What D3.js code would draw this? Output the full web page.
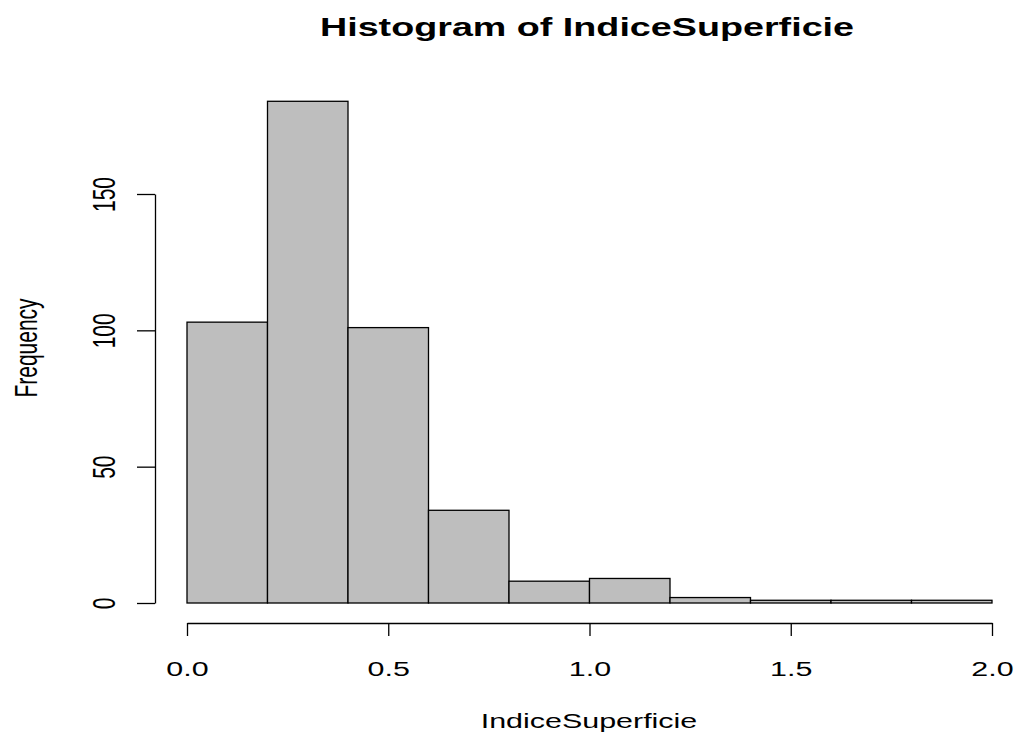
<!DOCTYPE html>
<html>
<head>
<meta charset="utf-8">
<script src="https://cdn.jsdelivr.net/npm/d3@7"></script>
<style>
    body { margin: 0; background: #fff; }
    svg text { font-family: 'Liberation Sans', Arial, sans-serif; fill: #000; }
    .axis path, .axis line { stroke: #000; stroke-width: 1.3; }
</style>
</head>
<body>
<svg width="1018" height="735"></svg>
<script>
    // histogram data
    var binEdges = [0, 0.2, 0.4, 0.6, 0.8, 1.0, 1.2, 1.4, 1.6, 1.8, 2.0];
    var counts = [103, 184, 101, 34, 8, 9, 2, 1, 1, 1];
    var xTicks = [0, 0.5, 1, 1.5, 2];
    var yTicks = [0, 50, 100, 150];

    // picture is stretched sideways, so text is stretched too
    var sx = 1.45;

    var svg = d3.select("svg");

    var x = d3.scaleLinear().domain([0, 2]).range([187, 992]);
    var y = d3.scaleLinear().domain([0, 150]).range([603, 194]);

    var bins = counts.map(function(c, i) {
        return {x0: binEdges[i], x1: binEdges[i + 1], n: c};
    });

    // bars
    svg.append("g")
        .selectAll("rect")
        .data(bins)
        .enter().append("rect")
        .attr("x", function(d) { return x(d.x0); })
        .attr("y", function(d) { return y(d.n); })
        .attr("width", function(d) { return x(d.x1) - x(d.x0); })
        .attr("height", function(d) { return y(0) - y(d.n); })
        .attr("fill", "#bebebe")
        .attr("stroke", "#000")
        .attr("stroke-width", 1.3);

    // x axis
    var gx = svg.append("g")
        .attr("class", "axis")
        .attr("transform", "translate(0,623)")
        .call(d3.axisBottom(x).tickValues(xTicks).tickSize(13).tickSizeOuter(0)
            .tickFormat(d3.format(".1f")));
    gx.selectAll("text")
        .attr("y", 0).attr("dy", 0)
        .attr("transform", "translate(0,53) scale(" + sx + ",1)")
        .attr("font-size", "21px")
        .attr("font-family", null);

    // y axis
    var gy = svg.append("g")
        .attr("class", "axis")
        .attr("transform", "translate(155,0)")
        .call(d3.axisLeft(y).tickValues(yTicks).tickSize(18).tickSizeOuter(0));
    gy.selectAll("text")
        .attr("x", 0).attr("y", 0).attr("dy", 0)
        .attr("text-anchor", "middle")
        .attr("transform", "translate(-40,0) scale(" + sx + ",1) rotate(-90)")
        .attr("font-size", "21px")
        .attr("font-family", null);
    gy.attr("font-family", null);
    gx.attr("font-family", null);

    // titles
    svg.append("text")
        .attr("transform", "translate(587,36) scale(" + sx + ",1)")
        .attr("text-anchor", "middle")
        .attr("font-size", "26px")
        .attr("font-weight", "bold")
        .text("Histogram of IndiceSuperficie");

    svg.append("text")
        .attr("transform", "translate(589,728) scale(" + sx + ",1)")
        .attr("text-anchor", "middle")
        .attr("font-size", "21px")
        .text("IndiceSuperficie");

    svg.append("text")
        .attr("transform", "translate(37,348) scale(" + sx + ",1) rotate(-90)")
        .attr("text-anchor", "middle")
        .attr("font-size", "21px")
        .text("Frequency");
</script>
</body>
</html>
